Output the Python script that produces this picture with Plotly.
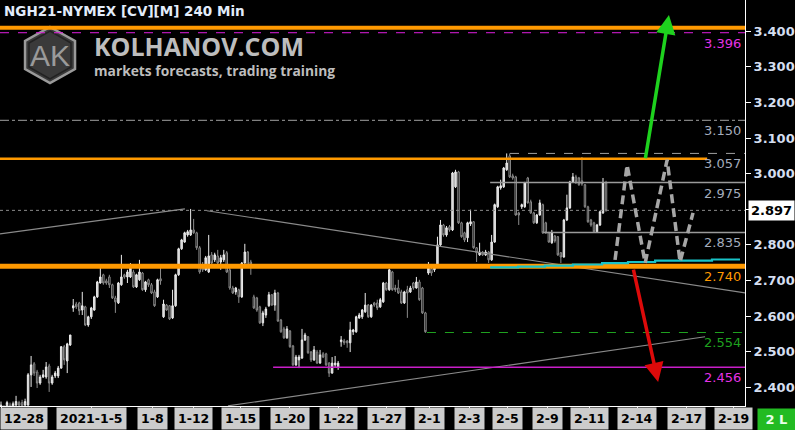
import plotly.graph_objects as go

# ---------------- data ----------------
opens = [2.336,2.342,2.345,2.350,2.342,2.350,2.357,2.357,2.350,2.350,
 2.435,2.466,2.443,2.412,2.429,2.429,2.460,2.412,2.432,2.432,
 2.454,2.514,2.474,2.519,2.623,2.634,2.637,2.617,2.626,2.575,
 2.598,2.617,2.654,2.693,2.716,2.699,2.710,2.688,2.651,2.637,
 2.688,2.716,2.710,2.710,2.724,2.682,2.702,2.721,2.674,2.702,
 2.688,2.668,2.654,2.705,2.598,2.631,2.629,2.595,2.629,2.716,
 2.789,2.808,2.828,2.828,2.842,2.834,2.792,2.738,2.730,2.724,
 2.772,2.758,2.769,2.752,2.758,2.778,2.730,2.679,2.668,2.674,
 2.654,2.749,2.780,2.752,2.654,2.651,2.626,2.581,2.603,2.629,
 2.660,2.631,2.665,2.589,2.564,2.539,2.558,2.516,2.463,2.477,
 2.482,2.533,2.542,2.499,2.477,2.499,2.468,2.494,2.494,2.468,
 2.440,2.463,2.457,2.528,2.530,2.530,2.525,2.556,2.556,2.595,
 2.598,2.612,2.631,2.598,2.637,2.637,2.626,2.640,2.693,2.674,
 2.724,2.679,2.679,2.668,2.637,2.674,2.668,2.693,2.679,2.696,
 2.679,2.609,2.721,2.733,2.730,2.744,2.800,2.856,2.828,2.851,
 2.842,2.963,3.005,2.862,2.834,2.820,2.859,2.865,2.792,2.772,
 2.780,2.772,2.780,2.758,2.808,2.907,2.960,2.963,3.011,3.050,
 2.994,2.991,2.890,2.907,2.907,2.988,2.921,2.890,2.862,2.884,
 2.913,2.862,2.834,2.806,2.825,2.823,2.778,2.766,2.870,2.904,
 2.977,2.991,2.988,2.980,2.969,2.907,2.870,2.862,2.837,2.856,
 2.890,2.974]
highs = [2.360,2.350,2.362,2.357,2.360,2.376,2.362,2.365,2.368,2.440,
 2.488,2.471,2.449,2.435,2.449,2.471,2.466,2.435,2.446,2.460,
 2.516,2.519,2.525,2.547,2.648,2.640,2.640,2.668,2.629,2.601,
 2.626,2.657,2.699,2.735,2.719,2.705,2.716,2.691,2.657,2.696,
 2.772,2.719,2.730,2.749,2.730,2.719,2.758,2.724,2.699,2.705,
 2.693,2.674,2.705,2.735,2.646,2.634,2.631,2.674,2.719,2.792,
 2.817,2.837,2.842,2.901,2.873,2.837,2.797,2.752,2.769,2.828,
 2.780,2.778,2.786,2.772,2.786,2.783,2.735,2.685,2.682,2.677,
 2.752,2.803,2.783,2.758,2.660,2.654,2.629,2.615,2.626,2.668,
 2.662,2.674,2.668,2.592,2.570,2.572,2.561,2.519,2.491,2.491,
 2.564,2.553,2.544,2.502,2.516,2.505,2.505,2.499,2.497,2.471,
 2.485,2.488,2.474,2.544,2.536,2.533,2.584,2.564,2.601,2.609,
 2.620,2.665,2.634,2.634,2.640,2.646,2.651,2.696,2.696,2.733,
 2.727,2.688,2.702,2.674,2.671,2.685,2.685,2.696,2.710,2.702,
 2.682,2.612,2.752,2.738,2.744,2.823,2.870,2.859,2.853,2.856,
 3.005,3.011,3.008,2.865,2.837,2.865,2.899,2.867,2.794,2.806,
 2.783,2.786,2.783,2.828,2.916,2.966,2.983,3.019,3.057,3.057,
 3.000,2.994,2.893,2.916,2.977,2.991,2.927,2.893,2.887,2.927,
 2.916,2.865,2.837,2.842,2.828,2.825,2.780,2.873,2.941,2.980,
 3.002,2.997,2.991,3.047,2.971,2.910,2.873,2.865,2.859,2.896,
 2.988,2.980]
lows = [2.325,2.322,2.336,2.331,2.336,2.345,2.345,2.342,2.345,2.348,
 2.401,2.432,2.398,2.407,2.426,2.424,2.387,2.407,2.426,2.426,
 2.452,2.463,2.440,2.516,2.612,2.620,2.603,2.603,2.572,2.570,
 2.592,2.615,2.651,2.691,2.688,2.688,2.679,2.648,2.609,2.634,
 2.685,2.705,2.693,2.707,2.679,2.679,2.699,2.671,2.668,2.682,
 2.662,2.626,2.651,2.688,2.595,2.615,2.589,2.592,2.626,2.713,
 2.786,2.806,2.823,2.825,2.831,2.786,2.719,2.724,2.727,2.721,
 2.744,2.752,2.744,2.730,2.752,2.721,2.674,2.662,2.660,2.637,
 2.651,2.747,2.735,2.716,2.620,2.612,2.578,2.572,2.595,2.626,
 2.629,2.615,2.584,2.553,2.536,2.536,2.511,2.460,2.460,2.454,
 2.480,2.530,2.494,2.471,2.474,2.466,2.466,2.482,2.460,2.429,
 2.438,2.457,2.449,2.514,2.519,2.511,2.499,2.547,2.553,2.592,
 2.592,2.609,2.595,2.595,2.626,2.617,2.623,2.637,2.671,2.671,
 2.671,2.668,2.662,2.634,2.634,2.595,2.665,2.674,2.677,2.643,
 2.606,2.553,2.716,2.713,2.724,2.741,2.797,2.823,2.823,2.837,
 2.839,2.960,2.859,2.820,2.808,2.808,2.853,2.789,2.752,2.769,
 2.769,2.769,2.749,2.755,2.806,2.904,2.955,2.960,3.008,2.988,
 2.983,2.882,2.856,2.901,2.904,2.916,2.887,2.859,2.859,2.882,
 2.831,2.831,2.806,2.803,2.806,2.769,2.749,2.764,2.867,2.901,
 2.974,2.971,2.966,2.966,2.904,2.862,2.851,2.834,2.834,2.853,
 2.887,2.893]
closes = [2.350,2.331,2.357,2.339,2.354,2.360,2.350,2.348,2.360,2.435,
 2.463,2.440,2.412,2.429,2.435,2.457,2.412,2.429,2.440,2.454,
 2.514,2.477,2.522,2.547,2.629,2.626,2.615,2.629,2.575,2.598,
 2.623,2.654,2.696,2.710,2.693,2.693,2.688,2.651,2.640,2.693,
 2.710,2.710,2.724,2.735,2.682,2.716,2.724,2.674,2.696,2.688,
 2.665,2.629,2.702,2.699,2.634,2.617,2.592,2.629,2.716,2.789,
 2.814,2.834,2.837,2.842,2.834,2.792,2.724,2.730,2.764,2.769,
 2.749,2.772,2.749,2.764,2.772,2.724,2.679,2.665,2.679,2.654,
 2.749,2.780,2.738,2.744,2.623,2.617,2.581,2.609,2.620,2.660,
 2.631,2.665,2.586,2.556,2.539,2.564,2.514,2.463,2.485,2.485,
 2.533,2.547,2.497,2.477,2.505,2.468,2.491,2.485,2.463,2.440,
 2.468,2.468,2.468,2.533,2.525,2.525,2.561,2.561,2.598,2.603,
 2.617,2.631,2.598,2.631,2.631,2.623,2.646,2.693,2.674,2.730,
 2.674,2.674,2.665,2.637,2.668,2.665,2.679,2.679,2.696,2.646,
 2.609,2.556,2.735,2.721,2.738,2.800,2.856,2.828,2.848,2.842,
 3.002,3.005,2.862,2.823,2.814,2.862,2.865,2.792,2.778,2.780,
 2.772,2.780,2.758,2.808,2.913,2.963,2.966,3.016,3.030,2.991,
 2.988,2.884,2.884,2.913,2.974,2.918,2.890,2.862,2.884,2.918,
 2.834,2.834,2.808,2.834,2.811,2.772,2.766,2.870,2.904,2.977,
 2.991,2.977,2.969,2.971,2.907,2.865,2.856,2.837,2.856,2.893,
 2.974,2.897]
bars = list(range(len(opens)))

y_ticks = [2.4, 2.5, 2.6, 2.7, 2.8, 2.9, 3.0, 3.1, 3.2, 3.3, 3.4]
x_tick_bars = [0.3, 30.2, 50.2, 63.8, 79.4, 96.0, 112.0, 128.2, 142.5,
               155.5, 168.4, 181.4, 195.4, 211.3, 227.6, 243.2]
x_tick_labels = ["12-28", "2021-1-5", "1-8", "1-12", "1-15", "1-20", "1-22", "1-27",
                 "2-1", "2-3", "2-5", "2-9", "2-11", "2-14", "2-17", "2-19"]

last_price = 2.897

# horizontal levels
level_prices = [3.410, 3.396, 3.150, 3.057, 3.042, 2.975, 2.897, 2.835, 2.740, 2.554, 2.456]
level_from = [None, None, None, 169.1, None, 162.5, None, 180.1, None, 141.5, 90.4]
level_to = [None, None, None, None, 234.6, None, None, None, None, None, None]
level_labels = [None, "3.396", "3.150", "3.057", None, "2.975", None, "2.835", "2.740", "2.554", "2.456"]

# trend lines
trend_a_bars, trend_a_prices = [-0.33, 61.1], [2.831, 2.901]
trend_b_bars, trend_b_prices = [68.4, 247.2], [2.896, 2.665]
trend_c_bars, trend_c_prices = [75.4, 233.9], [2.348, 2.542]

# cyan stepped line
cyan_bars = [162.5, 171.8, 180.7, 190.0, 199.7, 208.3, 217.3, 236.2, 245.5]
cyan_prices = [2.737, 2.739, 2.742, 2.745, 2.749, 2.752, 2.756, 2.759, 2.759]

# projected zigzag path
path_bars = [204.0, 208.0, 214.0, 221.3, 225.6, 229.9]
path_prices = [2.758, 3.025, 2.749, 3.039, 2.752, 2.890]

# arrows (tail -> head)
up_arrow = dict(tail=(214.0, 3.039), head=(221.9, 3.446))
down_arrow = dict(tail=(210.0, 2.735), head=(218.3, 2.415))

# ---------------- layout constants ----------------
W, H = 795, 430
PLOT_W, PLOT_H = 745, 406
X_LO, X_HI = -0.332, 247.17
Y_LO, Y_HI = 2.3475, 3.4879


def px(x):
    return x / PLOT_W


def py(y):
    return 1 - y / PLOT_H


level_styles = [
    dict(color="#ff9900", width=4, dash="solid"),
    dict(color="#e01ee0", width=1, dash="dash"),
    dict(color="#a0a0a0", width=1, dash="dashdot"),
    dict(color="#a0a0a0", width=1, dash="dash"),
    dict(color="#ff9900", width=2.5, dash="solid"),
    dict(color="#9a9a9a", width=1.5, dash="solid"),
    dict(color="#8a8a8a", width=1, dash="dot"),
    dict(color="#9a9a9a", width=1.5, dash="solid"),
    dict(color="#ff9900", width=5, dash="solid"),
    dict(color="#1fa01f", width=1.2, dash="dash"),
    dict(color="#c81ec8", width=1.5, dash="solid"),
]
label_colors = [None, "#e632e6", "#a4acbc", "#a4acbc", None, "#a4acbc", None,
                "#a4acbc", "#ff9900", "#1fa01f", "#e632e6"]

fig = go.Figure()

fig.add_trace(go.Candlestick(
    x=bars, open=opens, high=highs, low=lows, close=closes,
    increasing=dict(line=dict(color="#ececec", width=1), fillcolor="#cfcfcf"),
    decreasing=dict(line=dict(color="#8c8c8c", width=1), fillcolor="#000000"),
    whiskerwidth=0, showlegend=False, hoverinfo="skip"))

# trend lines
for bx, by in [(trend_a_bars, trend_a_prices), (trend_b_bars, trend_b_prices),
               (trend_c_bars, trend_c_prices)]:
    fig.add_trace(go.Scatter(x=bx, y=by, mode="lines",
                             line=dict(color="#8a8a8a", width=1.2),
                             showlegend=False, hoverinfo="skip"))

# levels
for p, f, t, st in zip(level_prices, level_from, level_to, level_styles):
    x0 = X_LO if f is None else f
    x1 = X_HI if t is None else t
    fig.add_trace(go.Scatter(x=[x0, x1], y=[p, p], mode="lines",
                             line=st, showlegend=False, hoverinfo="skip"))

# cyan
fig.add_trace(go.Scatter(x=cyan_bars, y=cyan_prices, mode="lines",
                         line=dict(color="#19c3c8", width=2.2, shape="hv"),
                         showlegend=False, hoverinfo="skip"))

# zigzag projection
fig.add_trace(go.Scatter(x=path_bars, y=path_prices, mode="lines",
                         line=dict(color="#a6a6a6", width=3.5, dash="9px,5px"),
                         showlegend=False, hoverinfo="skip"))

ann = []
# title
ann.append(dict(xref="paper", yref="paper", x=px(2), y=py(1), xanchor="left", yanchor="top",
                text="NGH21-NYMEX [CV][M] 240 Min", showarrow=False,
                font=dict(family="DejaVu Sans", size=13.5, color="#e2ecfa", weight="bold")))
# watermark
ann.append(dict(xref="paper", yref="paper", x=px(92), y=py(46), xanchor="left", yanchor="middle",
                text="KOLHANOV.COM", showarrow=False,
                font=dict(family="Open Sans", size=25, color="#bdbdbd", weight="bold")))
ann.append(dict(xref="paper", yref="paper", x=px(92), y=py(71), xanchor="left", yanchor="middle",
                text="markets forecasts, trading training", showarrow=False,
                font=dict(family="Open Sans", size=13.8, color="#bdbdbd", weight="bold")))
ann.append(dict(xref="paper", yref="paper", x=px(50), y=py(55), xanchor="center", yanchor="middle",
                text="AK", showarrow=False,
                font=dict(family="Liberation Sans", size=30, color="#9a9a9a")))

# level labels
for p, lab, c in zip(level_prices, level_labels, label_colors):
    if lab is None:
        continue
    ann.append(dict(xref="paper", yref="y", x=px(743), y=p, xanchor="right", yanchor="top",
                    yshift=-1, text=lab, showarrow=False,
                    font=dict(family="DejaVu Sans", size=13, color=c)))

# last price box (covers the 2.900 tick label)
ann.append(dict(xref="paper", yref="y", x=px(771), y=last_price, xanchor="center", yanchor="middle",
                text=f"{last_price:.3f}", showarrow=False, bgcolor="#ffffff", borderpad=2,
                font=dict(family="DejaVu Sans", size=13, color="#000000", weight="bold")))

# x tick label boxes
for i, (b, lab) in enumerate(zip(x_tick_bars, x_tick_labels)):
    ann.append(dict(xref="x" if i else "paper", yref="paper",
                    x=b if i else 0, y=py(418),
                    xanchor="center" if i else "left", yanchor="middle",
                    text=lab, showarrow=False, bgcolor="#cccccc", borderpad=3,
                    font=dict(family="DejaVu Sans", size=12.5, color="#000000", weight="bold")))
ann.append(dict(xref="paper", yref="paper", x=px(777), y=py(419), xanchor="center", yanchor="middle",
                text=" 2 L ", showarrow=False, bgcolor="#22bb22", borderpad=3,
                font=dict(family="DejaVu Sans", size=13, color="#e8ffe8", weight="bold")))

# arrows
for a, col in [(up_arrow, "#1ed21e"), (down_arrow, "#dd0a0a")]:
    ann.append(dict(x=a["head"][0], y=a["head"][1], ax=a["tail"][0], ay=a["tail"][1],
                    xref="x", yref="y", axref="x", ayref="y", text="", showarrow=True,
                    arrowhead=2, arrowsize=1.1, arrowwidth=3.5, arrowcolor=col, standoff=0))

# hexagon logo
def hexpath(cx, cy, rx, ry):
    pts = [(cx, cy - ry), (cx + rx, cy - ry / 2), (cx + rx, cy + ry / 2),
           (cx, cy + ry), (cx - rx, cy + ry / 2), (cx - rx, cy - ry / 2)]
    return "M " + " L ".join(f"{px(x):.4f},{py(y):.4f}" for x, y in pts) + " Z"


shapes = [
    dict(type="path", xref="paper", yref="paper", path=hexpath(50, 55, 25, 28),
         fillcolor="#3a3a3a", line=dict(color="#9a9a9a", width=2.5), layer="below"),
    dict(type="path", xref="paper", yref="paper", path=hexpath(50, 55, 21, 24),
         fillcolor="rgba(0,0,0,0)", line=dict(color="#222222", width=1.5), layer="below"),
]

y_ticktext = ["" if abs(v - 2.9) < 1e-9 else f"{v:.3f}" for v in y_ticks]

fig.update_layout(
    width=W, height=H, margin=dict(l=0, r=W - PLOT_W, t=0, b=H - PLOT_H, pad=0),
    paper_bgcolor="#000000", plot_bgcolor="#000000",
    font=dict(family="DejaVu Sans", color="#d4def0"),
    showlegend=False, annotations=ann, shapes=shapes,
    xaxis=dict(range=[X_LO, X_HI], showgrid=False, zeroline=False, showline=True,
               linecolor="#ffffff", linewidth=1, ticks="outside", ticklen=5, tickcolor="#ffffff",
               tickvals=x_tick_bars, showticklabels=False, rangeslider=dict(visible=False),
               fixedrange=True),
    yaxis=dict(range=[Y_LO, Y_HI], side="right", showgrid=False, zeroline=False, showline=True,
               linecolor="#ffffff", linewidth=1, ticks="outside", ticklen=5, tickcolor="#ffffff",
               tickvals=y_ticks, ticktext=y_ticktext,
               tickfont=dict(family="DejaVu Sans", size=13, color="#d4def0", weight="bold"),
               fixedrange=True),
)

fig.write_html("out.html", config={"displayModeBar": False},
               post_script="document.body.style.margin='0';document.body.style.background='#000';")
